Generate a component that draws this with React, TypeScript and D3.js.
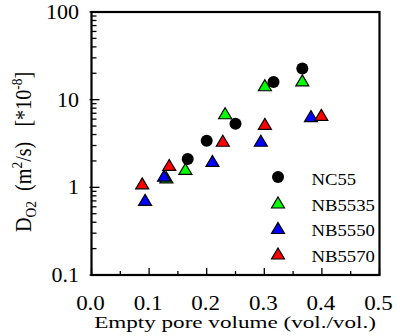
import React from 'react';
import * as d3 from 'd3';

const seriesNames = ['NC55', 'NB5535', 'NB5550', 'NB5570'];
const seriesColors = ['#000000', '#00ff00', '#0000ff', '#ff0000'];
const seriesShapes = ['circle', 'triangle', 'triangle', 'triangle'];

const nc55X = [0.167, 0.2, 0.25, 0.316, 0.366];
const nc55Y = [2.1, 3.4, 5.3, 15.9, 22.7];
const nb5535X = [0.13, 0.163, 0.232, 0.301, 0.366];
const nb5535Y = [1.3, 1.62, 7.0, 14.6, 16.6];
const nb5550X = [0.093, 0.126, 0.21, 0.294, 0.381];
const nb5550Y = [0.72, 1.36, 2.0, 3.4, 6.5];
const nb5570X = [0.088, 0.135, 0.228, 0.301, 0.399];
const nb5570Y = [1.11, 1.8, 3.4, 5.3, 6.7];

const seriesX = [nc55X, nb5535X, nb5550X, nb5570X];
const seriesY = [nc55Y, nb5535Y, nb5550Y, nb5570Y];

const xTicks = [0, 0.1, 0.2, 0.3, 0.4, 0.5];
const xMinorTicks = [0.05, 0.15, 0.25, 0.35, 0.45];
const yTicks = [0.1, 1, 10, 100];
const yTickLabels = ['0.1', '1', '10', '100'];

const tStyle = { fontFamily: 'Liberation Serif' };

const triPath = (w: number, h: number) =>
  `M0,${-h / 2}L${w / 2},${h / 2}L${-w / 2},${h / 2}Z`;

function Marker({ shape, color, cx, cy }: { shape: string; color: string; cx: number; cy: number }) {
  if (shape === 'circle') {
    return <circle cx={cx} cy={cy} r={6} fill={color} />;
  }
  return (
    <path
      d={triPath(13, 11)}
      transform={`translate(${cx},${cy})`}
      fill={color}
      stroke="#000"
      strokeWidth={1.2}
      strokeLinejoin="miter"
    />
  );
}

export default function App() {
  const left = 91.5, right = 379.5, top = 12, bottom = 275;
  const x = d3.scaleLinear().domain([0, 0.5]).range([left, right]);
  const y = d3.scaleLog().domain([0.1, 100]).range([bottom, top]);

  const yMinor: number[] = [];
  [0.1, 1, 10].forEach((d) => {
    for (let k = 2; k <= 9; k++) yMinor.push(d * k);
  });

  const legendBase = [185, 210.5, 236, 261.5];

  return (
    <svg
      width={400}
      height={336}
      style={{ position: 'absolute', left: 0, top: 0, background: '#fff' }}
    >
      <rect x={0} y={0} width={400} height={336} fill="#fff" />
      {yTicks.map((t) => (
        <line key={'ym' + t} x1={left - 2} x2={left + 8} y1={y(t)} y2={y(t)} stroke="#000" strokeWidth={1.3} />
      ))}
      {yMinor.map((t) => (
        <line key={'yn' + t} x1={left} x2={left + 5} y1={y(t)} y2={y(t)} stroke="#000" strokeWidth={1.3} />
      ))}
      {xTicks.map((t) => (
        <line key={'xm' + t} x1={x(t)} x2={x(t)} y1={bottom} y2={bottom - 7} stroke="#000" strokeWidth={1.3} />
      ))}
      {xMinorTicks.map((t) => (
        <line key={'xn' + t} x1={x(t)} x2={x(t)} y1={bottom} y2={bottom - 4} stroke="#000" strokeWidth={1.3} />
      ))}
      <rect x={left} y={top} width={right - left} height={bottom - top} fill="none" stroke="#000" strokeWidth={2.2} />

      {yTicks.map((t, i) => (
        <text key={'yl' + t} transform={`translate(79,${y(t) + 7}) scale(1.1,1)`} textAnchor="end"
          fontSize={20} style={tStyle}>
          {yTickLabels[i]}
        </text>
      ))}
      {xTicks.map((t) => (
        <text key={'xl' + t} transform={`translate(${x(t) - 1},310) scale(1.15,1)`} textAnchor="middle"
          fontSize={20} style={tStyle}>
          {t.toFixed(1)}
        </text>
      ))}
      <text transform="translate(235,328) scale(1.36,1)" textAnchor="middle" fontSize={17} style={tStyle}>
        Empty pore volume (vol./vol.)
      </text>
      <g transform="translate(31,232) rotate(-90) scale(1.12,1.3)">
        <text x={0} y={0} fontSize={18} style={{ ...tStyle, whiteSpace: 'pre' }}>
          <tspan>D</tspan>
          <tspan fontSize={12} dy={4}>O2</tspan>
          <tspan dy={-4}>{'  (m'}</tspan>
          <tspan fontSize={12} dy={-7}>2</tspan>
          <tspan dy={7}>{'/s)   [*10'}</tspan>
          <tspan fontSize={12} dy={-7}>-8</tspan>
          <tspan dy={7}>]</tspan>
        </text>
      </g>

      {seriesNames.map((name, si) => (
        <g key={name}>
          {seriesX[si].map((vx, i) => (
            <Marker key={i} shape={seriesShapes[si]} color={seriesColors[si]} cx={x(vx)} cy={y(seriesY[si][i])} />
          ))}
        </g>
      ))}

      {seriesNames.map((name, si) => (
        <g key={'lg' + name}>
          <Marker shape={seriesShapes[si]} color={seriesColors[si]} cx={278} cy={legendBase[si] - 8} />
          <text transform={`translate(311.5,${legendBase[si]}) scale(1.1,1)`} fontSize={17} style={tStyle}>
            {name}
          </text>
        </g>
      ))}
    </svg>
  );
}
